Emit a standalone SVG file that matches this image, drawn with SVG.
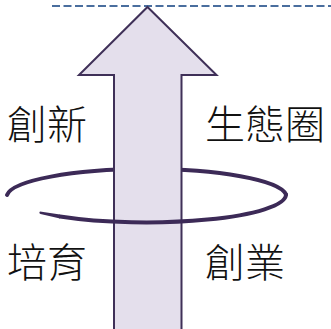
<svg xmlns="http://www.w3.org/2000/svg" width="331" height="329" viewBox="0 0 331 329">
  <style>
    .lbl { font-family: "Noto Sans CJK TC", "Noto Sans CJK SC", sans-serif; font-size: 40px; font-weight: 300; fill: #111111; }
    .ring { fill: none; stroke: #3c2a57; stroke-width: 4; stroke-linecap: round; }
  </style>
  <rect width="331" height="329" fill="#ffffff"/>
  <g id="guide">
    <line x1="52" y1="6" x2="331" y2="6" stroke="#4a6e9e" stroke-width="2" stroke-dasharray="8 3.5"/>
  </g>
  <g id="ring-back">
    <path class="ring" d="M 7 195 A 140 28 0 0 1 286 194.5"/>
  </g>
  <g id="arrow">
    <polygon points="147.5,7 216.5,75 181.5,75 181.5,335 114,335 114,75 79,75" fill="#e4dfec" stroke="#3f3058" stroke-width="2" stroke-linejoin="miter"/>
  </g>
  <g id="ring-front">
    <path class="ring" d="M 286 194.5 A 140 28 0 0 1 60 216.5"/>
    <path d="M 60 214.6 L 40 211.5 Q 38.5 213 40.5 214 L 60 218.4 Z" fill="#3c2a57"/>
  </g>
  <g id="label-innovation"><text class="lbl" x="7" y="139">創新</text></g>
  <g id="label-ecosystem"><text class="lbl" x="205" y="139">生態圈</text></g>
  <g id="label-nurture"><text class="lbl" x="7" y="277">培育</text></g>
  <g id="label-startup"><text class="lbl" x="205" y="277">創業</text></g>
</svg>
